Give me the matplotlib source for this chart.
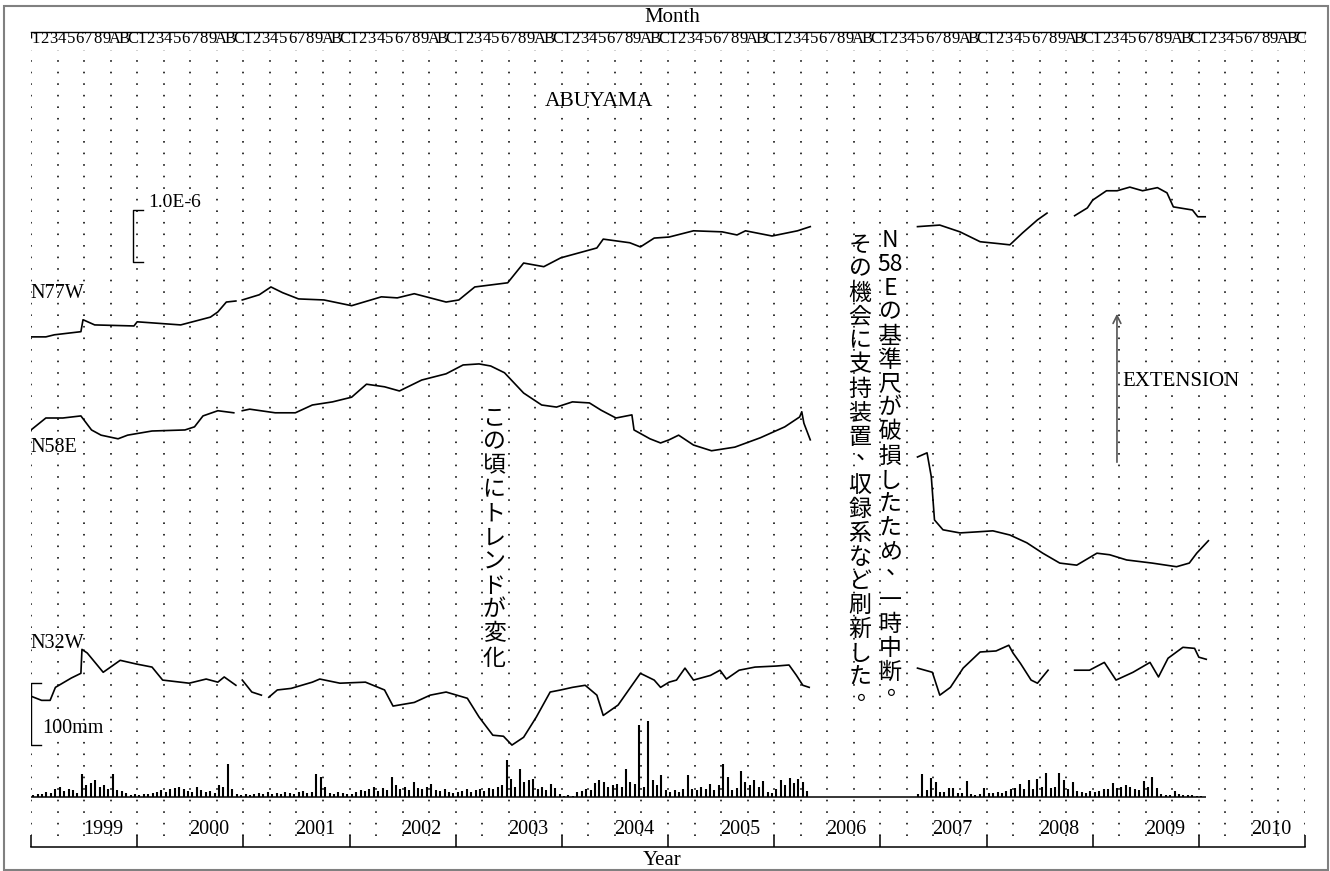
import numpy as np
import matplotlib.pyplot as plt
from matplotlib.patches import Rectangle

plt.rcParams['font.family'] = ['Liberation Serif', 'DejaVu Serif']
JP = ['Noto Sans CJK JP', 'DejaVu Sans']
nan = np.nan

# strain records (decimal year, 1e-6 relative to first sample); nan = data gap
n77w_t = [1999.00, 1999.14, 1999.22, 1999.47, 1999.49, 1999.60, 1999.97, 2000.00, 2000.41, 2000.69,
          2000.76, 2000.84, 2000.93, 2000.96, 2000.99, 2001.15, 2001.26, 2001.37, 2001.52, 2001.76,
          2002.02, 2002.30, 2002.45, 2002.61, 2002.91, 2003.03, 2003.18, 2003.49, 2003.64, 2003.83,
          2003.99, 2004.33, 2004.39, 2004.64, 2004.74, 2004.87, 2005.01, 2005.24, 2005.51, 2005.65,
          2005.73, 2005.98, 2006.22, 2006.34, 2006.80, 2007.35, 2007.56, 2007.75, 2007.94, 2008.13,
          2008.22, 2008.34, 2008.48, 2008.57, 2008.70, 2008.83, 2008.95, 2009.00, 2009.13, 2009.23,
          2009.35, 2009.47, 2009.61, 2009.70, 2009.76, 2009.94, 2009.99, 2010.06]
n77w_v = [0.00, 0.00, 0.04, 0.10, 0.33, 0.23, 0.21, 0.29, 0.23, 0.38,
          0.48, 0.67, 0.69, nan, 0.71, 0.81, 0.96, 0.85, 0.73, 0.71,
          0.60, 0.77, 0.75, 0.83, 0.67, 0.71, 0.96, 1.04, 1.42, 1.35,
          1.52, 1.71, 1.88, 1.81, 1.73, 1.90, 1.92, 2.04, 2.02, 1.96,
          2.04, 1.94, 2.04, 2.12, nan, 2.12, 2.15, 2.02, 1.83, 1.79,
          1.77, 2.00, 2.25, 2.38, nan, 2.33, 2.48, 2.63, 2.81, 2.81,
          2.88, 2.81, 2.87, 2.77, 2.50, 2.44, 2.31, 2.31]

n58e_t = [1999.00, 1999.14, 1999.30, 1999.47, 1999.57, 1999.66, 1999.82, 1999.91, 2000.14, 2000.45,
          2000.54, 2000.62, 2000.76, 2000.91, 2000.95, 2000.99, 2001.06, 2001.30, 2001.49, 2001.65,
          2001.84, 2002.02, 2002.16, 2002.33, 2002.47, 2002.68, 2002.91, 2003.07, 2003.22, 2003.33,
          2003.46, 2003.64, 2003.81, 2003.95, 2004.10, 2004.26, 2004.37, 2004.51, 2004.66, 2004.68,
          2004.83, 2004.93, 2005.01, 2005.10, 2005.24, 2005.41, 2005.63, 2005.87, 2006.10, 2006.24,
          2006.26, 2006.28, 2006.34, 2006.80, 2007.35, 2007.44, 2007.48, 2007.51, 2007.59, 2007.75,
          2007.91, 2008.06, 2008.22, 2008.38, 2008.53, 2008.69, 2008.85, 2009.04, 2009.16, 2009.32,
          2009.56, 2009.79, 2009.91, 2009.98, 2010.09]
n58e_v = [0.00, 0.23, 0.23, 0.27, 0.00, -0.10, -0.17, -0.10, -0.02, 0.00,
          0.06, 0.27, 0.37, 0.33, nan, 0.37, 0.40, 0.33, 0.33, 0.48,
          0.54, 0.63, 0.88, 0.83, 0.75, 0.96, 1.08, 1.25, 1.27, 1.23,
          1.10, 0.71, 0.48, 0.44, 0.54, 0.52, 0.38, 0.23, 0.29, 0.00,
          -0.17, -0.25, -0.19, -0.10, -0.29, -0.40, -0.33, -0.15, 0.06, 0.25,
          0.35, 0.13, -0.19, nan, -0.52, -0.44, -0.90, -1.73, -1.92, -1.98,
          -1.96, -1.94, -2.02, -2.17, -2.37, -2.56, -2.60, -2.37, -2.40, -2.50,
          -2.56, -2.63, -2.56, -2.37, -2.13]

n32w_t = [1999.00, 1999.10, 1999.18, 1999.23, 1999.38, 1999.47, 1999.48, 1999.53, 1999.68, 1999.84,
          1999.99, 2000.14, 2000.24, 2000.49, 2000.65, 2000.76, 2000.82, 2000.93, 2000.96, 2000.99,
          2001.08, 2001.17, 2001.20, 2001.24, 2001.32, 2001.45, 2001.65, 2001.72, 2001.91, 2002.15,
          2002.33, 2002.41, 2002.61, 2002.76, 2002.91, 2003.11, 2003.22, 2003.35, 2003.45, 2003.53,
          2003.64, 2003.76, 2003.89, 2003.99, 2004.10, 2004.22, 2004.33, 2004.39, 2004.53, 2004.64,
          2004.74, 2004.87, 2004.93, 2005.01, 2005.08, 2005.16, 2005.24, 2005.40, 2005.49, 2005.55,
          2005.67, 2005.82, 2006.02, 2006.14, 2006.21, 2006.27, 2006.33, 2006.80, 2007.35, 2007.49,
          2007.56, 2007.66, 2007.78, 2007.94, 2008.09, 2008.21, 2008.25, 2008.32, 2008.42, 2008.48,
          2008.58, 2008.70, 2008.83, 2008.97, 2009.11, 2009.22, 2009.38, 2009.54, 2009.62, 2009.71,
          2009.85, 2009.96, 2010.00, 2010.07]
n32w_v = [0.00, -0.08, -0.08, 0.17, 0.35, 0.44, 0.90, 0.83, 0.46, 0.69,
          0.62, 0.56, 0.31, 0.25, 0.33, 0.27, 0.37, 0.21, nan, 0.31,
          0.08, 0.02, nan, -0.02, 0.12, 0.15, 0.27, 0.33, 0.25, 0.27,
          0.12, -0.19, -0.12, 0.02, 0.08, -0.04, -0.40, -0.75, -0.77, -0.94,
          -0.79, -0.40, 0.08, 0.12, 0.17, 0.21, 0.02, -0.37, -0.17, 0.15,
          0.44, 0.31, 0.17, 0.27, 0.31, 0.54, 0.31, 0.40, 0.50, 0.33,
          0.50, 0.56, 0.58, 0.60, 0.40, 0.21, 0.17, nan, 0.54, 0.46,
          0.02, 0.17, 0.54, 0.85, 0.87, 0.98, 0.83, 0.63, 0.31, 0.25,
          0.50, nan, 0.50, 0.50, 0.65, 0.31, 0.46, 0.65, 0.37, 0.73,
          0.94, 0.92, 0.75, 0.71]

# rainfall, mm per half month
rain_a_start = 1999.0  # to mid 2006
rain_a = [3, 5, 5, 8, 6, 13, 16, 10, 13, 11, 6, 37, 19, 23, 27, 16, 19, 13, 37, 11, 10, 6, 3, 5,
          3, 5, 5, 6, 8, 11, 8, 13, 15, 16, 13, 10, 8, 16, 11, 8, 10, 6, 19, 16, 53, 13, 5, 3,
          5, 3, 5, 6, 5, 8, 5, 6, 5, 8, 6, 5, 8, 10, 6, 8, 37, 32, 16, 6, 5, 8, 6, 5,
          5, 8, 11, 10, 13, 16, 10, 15, 11, 32, 19, 13, 16, 11, 24, 15, 13, 16, 21, 11, 10, 13, 8, 6,
          8, 10, 13, 8, 11, 13, 10, 15, 13, 16, 19, 60, 29, 16, 45, 24, 27, 29, 13, 16, 11, 21, 15, 5,
          2, 3, 2, 8, 10, 13, 11, 23, 27, 24, 16, 19, 21, 16, 45, 24, 21, 116, 16, 123, 27, 19, 35, 11,
          8, 11, 8, 13, 35, 13, 11, 16, 13, 21, 11, 19, 53, 32, 11, 15, 42, 24, 19, 27, 16, 26, 8, 6,
          13, 27, 19, 31, 23, 29, 24, 10]
rain_b_start = 2007 + 8 / 24
rain_b = [5, 37, 11, 31, 24, 8, 8, 15, 15, 6, 6, 26, 5, 3, 5, 15,
          6, 6, 8, 6, 10, 13, 15, 21, 13, 27, 13, 29, 16, 39, 15, 16, 39, 27, 13, 24, 10, 8, 6, 10,
          8, 10, 13, 13, 23, 15, 16, 19, 16, 13, 11, 26, 16, 32, 15, 5, 3, 3, 10, 5, 3, 3, 3, 2,
          2]
rain_end = 2010.07

years = list(range(1999, 2011))
month_labels = list("123456789ABC")
series_names = ["N77W", "N58E", "N32W"]

# layout: 1e-6 strain = 52 px, one year = 106.17 px
W, H = 1330, 871
PXY = 106.17
PXU = 52.0
offsets = {"N77W": 9.81, "N58E": 8.02, "N32W": 2.90}
rain_base = 0.96
rain_scale = 0.62 / PXU  # units per mm


def at(X, Y):
    return 1999 + (X - 31) / PXY, (847 - Y) / PXU


fig = plt.figure(figsize=(W / 100, H / 100), dpi=100)
ax = fig.add_axes([31 / W, 24 / H, 1274 / W, 815 / H])
ax.set_xlim(1999, 2011)
ax.set_ylim(0, 815 / PXU)
for s in ['left', 'right']:
    ax.spines[s].set_visible(False)
ax.spines['top'].set_linewidth(1.0)
ax.spines['bottom'].set_linewidth(1.1)
ax.set_yticks([])
ax.set_xticks(range(1999, 2012))
ax.tick_params(axis='x', direction='in', length=8.6, width=1.1, labelbottom=False, top=False)
ymax = 815 / PXU
ax.vlines([1999, 2011], ymax - 6 / PXU, ymax, color='black', lw=1.0)

# quarterly dotted grid
quarters = np.arange(1999, 2011.01, 0.25)
ax.vlines(quarters, at(0, 836)[1], at(0, 50)[1], colors='#222222', linewidth=1.3,
          linestyles=[(0, (0.9, 5.5))])

# strain traces
data = {"N77W": (n77w_t, n77w_v), "N58E": (n58e_t, n58e_v), "N32W": (n32w_t, n32w_v)}
for name in series_names:
    t, v = data[name]
    ax.plot(t, np.array(v) + offsets[name], color='black', lw=1.2)

# rainfall
ta = rain_a_start + (np.arange(len(rain_a)) + 0.5) / 24
tb = rain_b_start + (np.arange(len(rain_b)) + 0.5) / 24
ax.vlines(ta, rain_base, rain_base + np.array(rain_a) * rain_scale, color='black', lw=1.5)
ax.vlines(tb, rain_base, rain_base + np.array(rain_b) * rain_scale, color='black', lw=1.5)
ax.hlines(rain_base, 1999, rain_end, color='black', lw=1.1)

# scale bars
bx, _ = at(133, 0)
sb0 = at(0, 262)[1]
ax.plot([bx + 0.094, bx, bx, bx + 0.094], [sb0 + 1.0, sb0 + 1.0, sb0, sb0], color='black', lw=1.0)
ax.text(*at(148, 202), "1.0E-6", fontsize=14, ha='left', va='center')
rb0 = at(0, 745)[1]
rtop = rb0 + 100 * rain_scale
ax.plot([1999.094, 1999.0, 1999.0, 1999.094], [rtop, rtop, rb0, rb0], color='black', lw=1.0)
ax.text(*at(42, 728), "100mm", fontsize=14.5, ha='left', va='center')

# series labels
for name, Y in zip(series_names, [293, 447, 643]):
    ax.text(*at(30, Y), name, fontsize=14.5, ha='left', va='center')

ax.text(*at(599, 101), "ABUYAMA", fontsize=15.5, ha='center', va='center')
ax.text(*at(1122, 381), "EXTENSION", fontsize=15, ha='left', va='center')
ax.annotate('', xy=at(1117, 311), xytext=at(1117, 465),
            arrowprops=dict(arrowstyle='->', color='#555555', lw=1.2, mutation_scale=14))

# month and year labels
for y in years:
    for m, lab in enumerate(month_labels):
        ax.text(y + (m + 0.5) / 12, at(0, 39)[1], lab, fontsize=12, ha='center', va='center')
    ax.text(y + 0.68, at(0, 829)[1], str(y), fontsize=14.5, ha='center', va='center')
fig.text(672 / W, 1 - 17 / H, "Month", fontsize=15, ha='center', va='center')
fig.text(662 / W, 1 - 860 / H, "Year", fontsize=15, ha='center', va='center')


# vertical Japanese notes
def vcolumn(cells, X, Y0, step=24):
    for i, c in enumerate(cells):
        dx, dy = (7, -9) if c in '、。' else (0, 0)
        ax.text(*at(X + dx, Y0 + i * step + dy), c, fontsize=16.5, family=JP,
                ha='center', va='center')


vcolumn(list("この頃にトレンドが変化"), 494, 418)
vcolumn(["N", "58", "E"] + list("の基準尺が破損したため、一時中断。"), 890, 240)
vcolumn(list("その機会に支持装置、収録系など刷新した。"), 860, 245)

fig.patches.append(Rectangle((4 / W, 1 / H), 1324 / W, 864 / H, transform=fig.transFigure,
                             fill=False, edgecolor='#808080', lw=1.5))

fig.savefig('out.png', dpi=100)
